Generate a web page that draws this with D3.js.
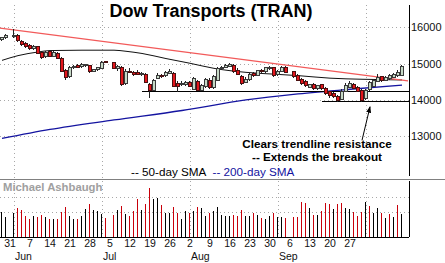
<!DOCTYPE html>
<html>
<head>
<meta charset="utf-8">
<script src="https://cdn.jsdelivr.net/npm/d3@7"></script>
<style>
  body { margin: 0; background: #fff; }
  svg { display: block; font-family: "Liberation Sans", Arial, sans-serif; }
</style>
</head>
<body>
<svg id="chart"></svg>
<script>
const W = 445, H = 263;

// trading days (2021), holidays May 31, Jul 5, Sep 6 are skipped
const days = [
  '05-27','05-28',
  '06-01','06-02','06-03','06-04','06-07','06-08','06-09','06-10','06-11','06-14','06-15','06-16','06-17','06-18','06-21','06-22','06-23','06-24','06-25','06-28','06-29','06-30',
  '07-01','07-02','07-06','07-07','07-08','07-09','07-12','07-13','07-14','07-15','07-16','07-19','07-20','07-21','07-22','07-23','07-26','07-27','07-28','07-29','07-30',
  '08-02','08-03','08-04','08-05','08-06','08-09','08-10','08-11','08-12','08-13','08-16','08-17','08-18','08-19','08-20','08-23','08-24','08-25','08-26','08-27','08-30','08-31',
  '09-01','09-02','09-03','09-07','09-08','09-09','09-10','09-13','09-14','09-15','09-16','09-17','09-20','09-21','09-22','09-23','09-24','09-27','09-28','09-29','09-30',
  '10-01','10-04','10-05','10-06','10-07','10-08','10-11','10-12','10-13','10-14'
]

const open = [
  15656, 15711, 15752, 15780, 15601, 15560, 15505, 15408, 15463, 15312,
  15188, 15326, 15202, 15271, 15133, 14803, 14638, 14885, 14940, 14913,
  14940, 14940, 14789, 14830, 14872, 15051, 15023, 14872, 14885, 14459,
  14789, 14748, 14762, 14693, 14693, 14431, 14266, 14596, 14679, 14665,
  14734, 14720, 14459, 14418, 14431, 14473, 14294, 14514, 14266, 14362,
  14541, 14349, 14541, 14858, 14899, 14913, 14954, 14817, 14651, 14486,
  14555, 14720, 14679, 14817, 14775, 14872, 14885, 14693, 14789, 14899,
  14775, 14679, 14569, 14514, 14349, 14431, 14307, 14418, 14321, 14225,
  14170, 14087, 14019, 14239, 14335, 14418, 14349, 14266, 14032, 14294,
  14362, 14514, 14638, 14541, 14583, 14624, 14665, 14679
]
const high = [
  15739, 15807, 15959, 15807, 15642, 15587, 15532, 15518, 15491, 15353,
  15353, 15367, 15340, 15312, 15174, 14844, 14927, 14968, 14982, 15009,
  14995, 14968, 14858, 14899, 15064, 15078, 15051, 14968, 14927, 14844,
  14872, 14803, 14817, 14775, 14734, 14459, 14583, 14734, 14720, 14803,
  14858, 14762, 14514, 14514, 14528, 14514, 14624, 14555, 14445, 14610,
  14596, 14679, 14913, 14940, 14982, 15009, 14995, 14872, 14693, 14624,
  14734, 14762, 14830, 14858, 14913, 14927, 14899, 14817, 14927, 14927,
  14803, 14707, 14596, 14541, 14445, 14459, 14418, 14445, 14349, 14252,
  14211, 14129, 14307, 14459, 14514, 14459, 14390, 14294, 14294, 14514,
  14583, 14707, 14665, 14651, 14707, 14734, 14817, 14954
]
const low = [
  15628, 15670, 15711, 15587, 15477, 15436, 15367, 15381, 15257, 15133,
  15161, 15174, 15174, 15119, 14762, 14555, 14610, 14858, 14885, 14885,
  14913, 14748, 14762, 14803, 14844, 15009, 14844, 14803, 14376, 14418,
  14734, 14665, 14679, 14651, 14459, 14060, 14239, 14569, 14610, 14638,
  14707, 14349, 14225, 14376, 14390, 14349, 14266, 14239, 14239, 14321,
  14307, 14307, 14514, 14817, 14872, 14899, 14748, 14679, 14404, 14459,
  14528, 14638, 14651, 14748, 14748, 14830, 14638, 14665, 14762, 14734,
  14610, 14514, 14404, 14362, 14321, 14280, 14280, 14280, 14129, 14060,
  14046, 13950, 13991, 14225, 14321, 14294, 14211, 13950, 13991, 14253,
  14349, 14486, 14500, 14514, 14555, 14610, 14638, 14665
]
const close = [
  15711, 15766, 15766, 15628, 15518, 15477, 15408, 15477, 15271, 15161,
  15312, 15188, 15298, 15147, 14789, 14624, 14899, 14927, 14905, 14968,
  14974, 14789, 14830, 14885, 15037, 15023, 14872, 14927, 14431, 14775,
  14753, 14707, 14693, 14734, 14486, 14253, 14541, 14679, 14638, 14762,
  14789, 14376, 14362, 14459, 14473, 14376, 14583, 14266, 14404, 14569,
  14349, 14638, 14872, 14899, 14940, 14968, 14775, 14707, 14459, 14569,
  14693, 14665, 14803, 14775, 14885, 14899, 14665, 14789, 14885, 14748,
  14638, 14541, 14445, 14390, 14418, 14307, 14390, 14307, 14170, 14115,
  14087, 13977, 14239, 14404, 14445, 14321, 14239, 13977, 14266, 14473,
  14541, 14624, 14528, 14610, 14665, 14693, 14762, 14927
]
// volume (millions, approx) and bar colour: k = up day, r = down day
const volume = [
  25.3, 20.3, 24.3, 29.3, 27.3, 21.3, 17.7, 21.3, 20.3, 22.3,
  20.3, 18.3, 17.7, 18, 25.3, 30, 21, 18.3, 17.7, 21,
  28.3, 33.3, 27, 26.3, 23, 19.3, 22, 27, 31, 23,
  20.7, 26.3, 38, 27, 33, 49, 38, 38.7, 32, 24.3,
  24.3, 29.7, 23.7, 17.7, 26.3, 24.3, 26.3, 29.7, 28.7, 21,
  23.7, 26.3, 29.7, 22, 21, 21.3, 22, 21, 27, 21,
  21, 23.7, 22, 19, 18.3, 21.3, 23.7, 20.3, 19.7, 19,
  19.7, 19.7, 35.3, 34.3, 28.7, 22, 22, 26, 34.3, 32.7,
  27.7, 33, 33.7, 28.7, 27.7, 25, 20.7, 25.3, 35.3, 31,
  23.7, 28.7, 23.7, 19.3, 23, 19.7, 32, 23
]
const volColor = ('kkkrrrrkrr' + 'krkrrrkkrk' + 'krkkkrrkrk' + 'rrrkrrkkrk' + 'krrkkrkrkk' +
  'rkkkkkrrrk' + 'krkrkkrkkr' + 'rrrrkrkrrr' + 'krrkkrrrkr' + 'kkrkrkrk').split('')

// moving averages
const sma50Days = ['05-27','06-02','06-09','06-14','06-24','07-06','07-09','07-15','07-23','08-02','08-10','08-20','08-31','09-08','09-20','09-30','10-14']
const sma50 = [15090, 15220, 15320, 15360, 15370, 15370, 15340, 15280, 15140, 15010, 14870, 14760, 14710, 14670, 14600, 14570, 14550]
const sma200Days = ['05-27','06-14','07-06','07-29','08-20','09-08','09-27','10-14']
const sma200 = [12940, 13190, 13450, 13710, 14000, 14165, 14295, 14410]

// trendline resistance and horizontal support
const trendDays = ['05-27', '10-15'], trendPrices = [15980, 14525]
const supportDays = [['07-15', '10-15'], ['09-16', '10-15']]
const supportPrices = [14235, 13970]

const priceTicks = [13000, 14000, 15000, 16000]
const volTicks = [25, 40]
const weekLabels = ['05-31','06-07','06-14','06-21','06-28','07-05','07-12','07-19','07-26','08-02','08-09','08-16','08-23','08-30','09-06','09-13','09-20','09-27']
const monthStarts = ['06-01','07-01','08-02','09-01','10-01']
const monthNames = ['Jun', 'Jul', 'Aug', 'Sep']

const parse = d3.timeParse('%Y-%m-%d'), fmt = d3.timeFormat('%m-%d')
const weekdays = d3.timeDay.range(parse('2021-05-27'), parse('2021-10-16'))
  .filter(d => d.getDay() % 6 !== 0).map(fmt)

const right = 409, priceTop = 5, priceBottom = 176, volTop = 181, volBottom = 237

const x = d3.scaleBand().domain(weekdays).range([0, 408])
const cx = d => x(d) + x.bandwidth() / 2
const y = d3.scaleLinear().domain([13000, 16000]).range([136.3, 27.3])
const yv = d3.scaleLinear().domain([0, 60]).range([volBottom, 177])

const svg = d3.select('#chart').attr('width', W).attr('height', H)
svg.append('rect').attr('width', W).attr('height', H).attr('fill', '#fff')

// dotted grid
const grid = svg.append('g').attr('stroke', '#a8a8a8').attr('stroke-dasharray', '1,3')
grid.selectAll('.vg').data(monthStarts).enter().append('line')
  .attr('x1', d => cx(d) + 0.5).attr('x2', d => cx(d) + 0.5)
  .attr('y1', priceTop).attr('y2', volBottom)
grid.selectAll('.hg').data(priceTicks).enter().append('line')
  .attr('x1', 0).attr('x2', right)
  .attr('y1', d => Math.round(y(d)) + 0.5).attr('y2', d => Math.round(y(d)) + 0.5)
grid.selectAll('.vh').data(volTicks).enter().append('line')
  .attr('x1', 0).attr('x2', right)
  .attr('y1', d => Math.round(yv(d)) + 0.5).attr('y2', d => Math.round(yv(d)) + 0.5)

const plot = svg.append('g')

// moving averages
const smaLine = d3.line().x(d => cx(d[0])).y(d => y(d[1])).curve(d3.curveMonotoneX)
plot.append('path').datum(d3.zip(sma200Days, sma200))
  .attr('d', smaLine).attr('fill', 'none').attr('stroke', '#1414a0').attr('stroke-width', 1.3)
plot.append('path').datum(d3.zip(sma50Days, sma50))
  .attr('d', smaLine).attr('fill', 'none').attr('stroke', '#111').attr('stroke-width', 1)

// trendline
plot.append('line')
  .attr('x1', x(trendDays[0])).attr('y1', y(trendPrices[0]))
  .attr('x2', x(trendDays[1]) + x.bandwidth()).attr('y2', y(trendPrices[1]))
  .attr('stroke', '#f25a5a').attr('stroke-width', 1.3)

// support lines
supportDays.forEach((s, k) => {
  plot.append('line')
    .attr('x1', cx(s[0])).attr('x2', right)
    .attr('y1', Math.round(y(supportPrices[k])) + 0.5).attr('y2', Math.round(y(supportPrices[k])) + 0.5)
    .attr('stroke', '#000').attr('stroke-width', 1.2)
})

// candles
const candles = days.map((d, i) => ({day: d, o: open[i], h: high[i], l: low[i], c: close[i]}))
const cg = plot.selectAll('.candle').data(candles).enter().append('g')
  .attr('shape-rendering', 'crispEdges')
cg.append('line')
  .attr('x1', d => x(d.day) + 1.5).attr('x2', d => x(d.day) + 1.5)
  .attr('y1', d => y(d.h)).attr('y2', d => y(d.l))
  .attr('stroke', '#222')
cg.append('rect')
  .attr('x', d => x(d.day) + 0.5).attr('width', 3)
  .attr('y', d => y(Math.max(d.o, d.c)))
  .attr('height', d => Math.max(1, Math.abs(y(d.o) - y(d.c))))
  .attr('fill', d => d.c >= d.o ? '#c6d9c6' : '#e3161c')
  .attr('stroke', d => d.c >= d.o ? '#3a3a3a' : '#4a1010')

// volume
plot.selectAll('.vol').data(days).enter().append('line')
  .attr('x1', d => x(d) + 1.5).attr('x2', d => x(d) + 1.5)
  .attr('y1', volBottom).attr('y2', (d, i) => yv(volume[i]))
  .attr('stroke', (d, i) => volColor[i] === 'r' ? '#c8000a' : '#000')
  .attr('stroke-width', 1).attr('shape-rendering', 'crispEdges')

// frames
const frame = svg.append('g').attr('shape-rendering', 'crispEdges')
frame.append('line').attr('x1', right + 0.5).attr('x2', right + 0.5)
  .attr('y1', priceTop).attr('y2', priceBottom).attr('stroke', '#000')
frame.append('line').attr('x1', right + 0.5).attr('x2', right + 0.5)
  .attr('y1', volTop).attr('y2', volBottom).attr('stroke', '#000')
frame.append('line').attr('x1', 0).attr('x2', W)
  .attr('y1', 179.5).attr('y2', 179.5).attr('stroke', '#808080')
frame.append('line').attr('x1', 0).attr('x2', right)
  .attr('y1', volBottom + 0.5).attr('y2', volBottom + 0.5).attr('stroke', '#000')

// price axis (right)
const yAxis = svg.append('g')
  .attr('transform', `translate(${right},0)`)
  .call(d3.axisRight(y).tickValues(priceTicks).tickSize(0).tickPadding(2).tickFormat(d3.format('d')))
yAxis.select('.domain').remove()
yAxis.selectAll('text').attr('font-size', '11px').attr('font-family', '"Liberation Sans", Arial, sans-serif').attr('fill', '#111')

// date axis
const xAxis = svg.append('g')
  .attr('transform', `translate(0,${volBottom})`)
  .call(d3.axisBottom(x).tickValues(weekLabels).tickSize(0).tickPadding(3)
    .tickFormat(d => String(+d.slice(3))))
xAxis.select('.domain').remove()
xAxis.selectAll('text').attr('font-size', '10.5px').attr('font-family', '"Liberation Sans", Arial, sans-serif').attr('fill', '#111')

svg.selectAll('.month').data(monthNames).enter().append('text')
  .attr('x', (d, i) => cx(monthStarts[i]) + 1).attr('y', 259.5)
  .attr('font-size', '10.5px').attr('fill', '#111')
  .text(d => d)

// title
svg.append('text')
  .attr('x', 211).attr('y', 16.5).attr('text-anchor', 'middle')
  .attr('font-size', '18px').attr('font-weight', 'bold').attr('fill', '#000')
  .text('Dow Transports (TRAN)')

// annotation
const defs = svg.append('defs')
defs.append('marker').attr('id', 'arrow')
  .attr('viewBox', '0 0 8 6').attr('refX', 7).attr('refY', 3)
  .attr('markerWidth', 7).attr('markerHeight', 5).attr('markerUnits', 'userSpaceOnUse')
  .attr('orient', 'auto')
  .append('path').attr('d', 'M0,0 L8,3 L0,6 Z').attr('fill', '#000')

const arrowFrom = ['09-30', 12890], arrowTo = ['10-04', 13810]
svg.append('line')
  .attr('x1', cx(arrowFrom[0])).attr('y1', y(arrowFrom[1]))
  .attr('x2', cx(arrowTo[0])).attr('y2', y(arrowTo[1]))
  .attr('stroke', '#000').attr('stroke-width', 1).attr('marker-end', 'url(#arrow)')

const note = svg.append('g').attr('font-size', '11.7px').attr('font-weight', 'bold')
  .attr('text-anchor', 'middle').attr('fill', '#000')
note.append('text').attr('x', 317).attr('y', 147.5).text('Clears trendline resistance')
note.append('text').attr('x', 317).attr('y', 160.5).text('-- Extends the breakout')

// legend
svg.append('text').attr('x', 131).attr('y', 176).attr('font-size', '11.7px').attr('fill', '#000')
  .text('-- 50-day SMA')
svg.append('text').attr('x', 212.5).attr('y', 176).attr('font-size', '11.7px').attr('fill', '#1414a0')
  .text('-- 200-day SMA')

svg.append('text').attr('x', 3).attr('y', 191).attr('font-size', '11.3px').attr('font-weight', 'bold')
  .attr('fill', '#a0a0a0').text('Michael Ashbaugh')
</script>
</body>
</html>
